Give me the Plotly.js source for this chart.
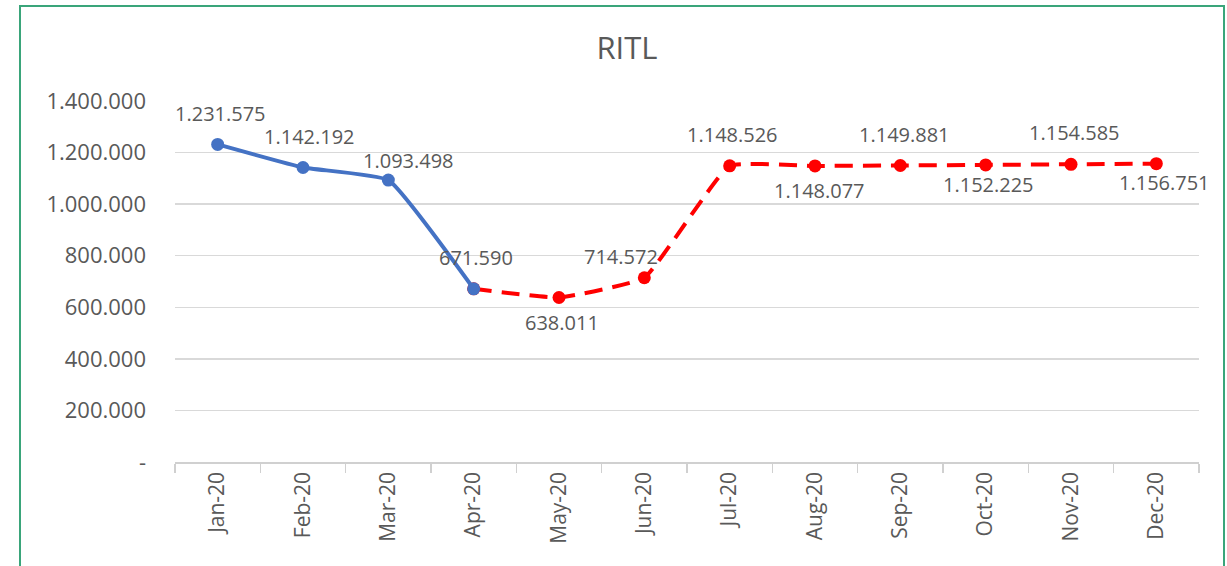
<!DOCTYPE html>
<html>
<head>
<meta charset="utf-8">
<script src="https://cdn.plot.ly/plotly-3.0.1.min.js"></script>
<style>
html,body{margin:0;padding:0;background:#fff;}
#chart{width:1227px;height:566px;}
</style>
</head>
<body>
<div id="chart"></div>
<script>
const months = ["Jan-20","Feb-20","Mar-20","Apr-20","May-20","Jun-20","Jul-20","Aug-20","Sep-20","Oct-20","Nov-20","Dec-20"];
const actualMonths = ["Jan-20","Feb-20","Mar-20","Apr-20"];
const actualValues = [1231575, 1142192, 1093498, 671590];
const forecastMonths = ["Apr-20","May-20","Jun-20","Jul-20","Aug-20","Sep-20","Oct-20","Nov-20","Dec-20"];
const forecastValues = [671590, 638011, 714572, 1148526, 1148077, 1149881, 1152225, 1154585, 1156751];
const yTickVals = [0, 200000, 400000, 600000, 800000, 1000000, 1200000, 1400000];
const yTickText = ["-", "200.000", "400.000", "600.000", "800.000", "1.000.000", "1.200.000", "1.400.000"];

// label values per month (all months)
const labelMonths = months;
const labelValues = [1231575, 1142192, 1093498, 671590, 638011, 714572, 1148526, 1148077, 1149881, 1152225, 1154585, 1156751];
// label offsets in px (style)
const labelDx = [3, 6, 20, 2, 3, -23, 3, 4, 4, 3, 3, 8];
const labelDy = [-31, -31, -20, -31, 25, -21, -31, 25, -31, 20, -32, 19];

function fmt(v){ return v.toString().replace(/\B(?=(\d{3})+(?!\d))/g, "."); }

const FONT = "Open Sans, Noto Sans, sans-serif";
const TXT = "#595959";

const traces = [
  {
    x: forecastMonths, y: forecastValues, type: "scatter", mode: "lines+markers",
    line: {color: "#FF0000", width: 4, dash: "18px,10px", shape: "spline", smoothing: 0.35},
    marker: {color: "#FF0000", size: 13},
    hoverinfo: "skip", showlegend: false
  },
  {
    x: actualMonths, y: actualValues, type: "scatter", mode: "lines+markers",
    line: {color: "#4472C4", width: 4, shape: "spline", smoothing: 0.35},
    marker: {color: "#4472C4", size: 13},
    hoverinfo: "skip", showlegend: false
  }
];

const annotations = labelMonths.map((m, i) => ({
  x: m, y: labelValues[i], xref: "x", yref: "y",
  text: fmt(labelValues[i]), showarrow: false,
  xshift: labelDx[i], yshift: -labelDy[i],
  font: {family: FONT, size: 20, color: TXT}
}));

// frame border (paper coords relative to plot area)
const L = 175, R = 28, T = 101, B = 104, W = 1227, H = 566;
const pw = W - L - R, ph = H - T - B;
const px = p => (p - L) / pw;
const py = p => (H - B - p) / ph;

const layout = {
  width: W, height: H,
  margin: {l: L, r: R, t: T, b: B},
  paper_bgcolor: "#ffffff", plot_bgcolor: "#ffffff",
  title: {text: "RITL", font: {family: FONT, size: 31, color: TXT}, x: 0.511, xanchor: "center", y: 0.915, yanchor: "middle"},
  xaxis: {
    type: "category", categoryorder: "array", categoryarray: months,
    range: [-0.5, 11.5], showgrid: false, zeroline: false,
    showline: true, linecolor: "#d0d0d0", linewidth: 1.5,
    ticks: "outside", tickson: "boundaries", ticklen: 9, tickcolor: "#d0d0d0", tickwidth: 1.5,
    tickangle: -90, tickfont: {family: FONT, size: 21, color: TXT},
    fixedrange: true
  },
  yaxis: {
    range: [0, 1400000], tickvals: yTickVals, ticktext: yTickText,
    showgrid: true, gridcolor: "#d9d9d9", gridwidth: 1.5, zeroline: false,
    showline: false, ticks: "", ticklabelstandoff: 28,
    tickfont: {family: FONT, size: 22, color: TXT}, fixedrange: true
  },
  annotations: annotations,
  shapes: [
    {type: "rect", xref: "paper", yref: "paper", x0: px(20), x1: px(1224), y0: py(570), y1: py(6),
     line: {color: "#3aa57a", width: 2}, fillcolor: "rgba(0,0,0,0)", layer: "below"}
  ]
};

Plotly.newPlot("chart", traces, layout, {displayModeBar: false, staticPlot: true});
</script>
</body>
</html>
